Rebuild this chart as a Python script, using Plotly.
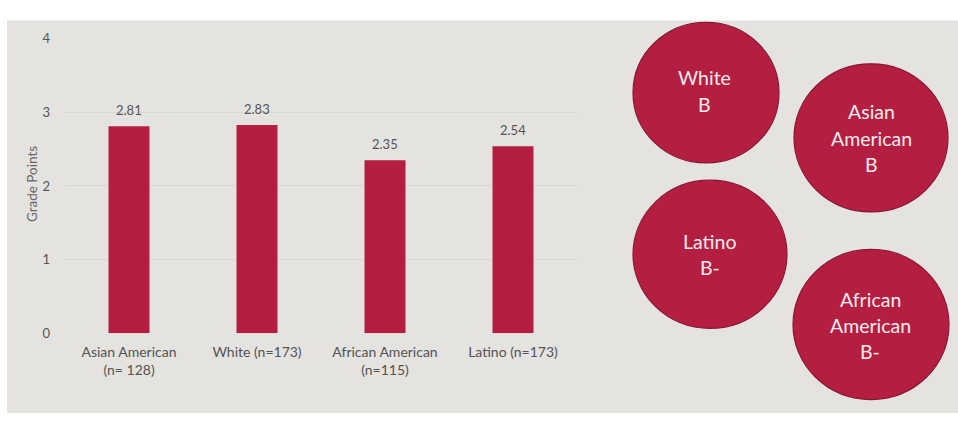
import plotly.graph_objects as go

# ---- data ----
categories = ["Asian American<br>(n= 128)", "White (n=173)", "African American<br>(n=115)", "Latino (n=173)"]
grade_points = [2.81, 2.83, 2.35, 2.54]
value_labels = ["2.81", "2.83", "2.35", "2.54"]
y_ticks = [0, 1, 2, 3, 4]

circle_groups = ["White", "Asian<br>American", "Latino", "African<br>American"]
circle_grades = ["B", "B", "B-", "B-"]

# ---- style / layout constants ----
W, H = 958, 421
BAR = "#b41f41"
EDGE = "#8a1531"
PANEL = "#e5e3df"
GRID = "#d9d7d3"
TXT = "#545454"
FONT = "Lato, 'Open Sans', sans-serif"

def px_x(x):
    return x / W

def px_y(y):
    return (H - y) / H

fig = go.Figure()
fig.add_trace(go.Bar(
    x=categories, y=grade_points, width=0.32,
    marker=dict(color=BAR, line=dict(width=0)),
    hoverinfo="x+y", showlegend=False,
))

annotations = []
for c, v, t in zip(categories, grade_points, value_labels):
    annotations.append(dict(x=c, y=v, xref="x", yref="y", text=t, showarrow=False,
                            xanchor="center", yanchor="bottom", yshift=6,
                            font=dict(family=FONT, size=13, color=TXT)))

annotations.append(dict(x=px_x(32), y=px_y(183), xref="paper", yref="paper",
                        text="Grade Points", textangle=-90, showarrow=False,
                        xanchor="center", yanchor="middle",
                        font=dict(family=FONT, size=13.5, color="#666666")))

# circle geometry in pixels: centre x, centre y, radius; text block centre y; line gap
circle_geom = [(706, 88, 73), (871, 135, 77), (710, 256, 77), (871, 329, 78)]
text_centre = [(704, 86.5), (871, 135.5), (710, 256.5), (870, 330)]
LINE_GAP = 27.5

shapes = [dict(type="rect", xref="paper", yref="paper",
               x0=px_x(7), x1=px_x(958), y0=px_y(421), y1=px_y(13),
               fillcolor=PANEL, line=dict(width=0), layer="below")]

for (cx, cy, r), (tx, ty), g, gr in zip(circle_geom, text_centre, circle_groups, circle_grades):
    shapes.append(dict(type="circle", xref="paper", yref="paper",
                       x0=px_x(cx - r), x1=px_x(cx + r),
                       y0=px_y(cy + r), y1=px_y(cy - r),
                       fillcolor=BAR, line=dict(color=EDGE, width=1.2), layer="above"))
    lines = g.split("<br>") + [gr]
    n = len(lines)
    for i, line in enumerate(lines):
        ly = ty + (i - (n - 1) / 2) * LINE_GAP
        annotations.append(dict(x=px_x(tx), y=px_y(ly), xref="paper", yref="paper",
                                text=line, showarrow=False, align="center",
                                xanchor="center", yanchor="middle",
                                font=dict(family=FONT, size=19.5, color="#f6eaed")))

fig.update_layout(
    width=W, height=H,
    margin=dict(l=0, r=0, t=0, b=0),
    paper_bgcolor="white",
    plot_bgcolor="rgba(0,0,0,0)",
    shapes=shapes,
    annotations=annotations,
    xaxis=dict(domain=[px_x(65), px_x(577)], showgrid=False, zeroline=False,
               showline=False, ticks="", ticklabelstandoff=9,
               tickfont=dict(family=FONT, size=14, color=TXT)),
    yaxis=dict(domain=[px_y(338), px_y(32)], range=[0, 4], tickvals=y_ticks,
               showgrid=True, gridcolor=GRID, gridwidth=1, zeroline=False,
               showline=False, ticks="", ticklabelstandoff=14,
               tickfont=dict(family=FONT, size=13, color=TXT)),
)

pin_to_corner = (
    "document.documentElement.style.margin='0';"
    "document.body.style.margin='0';"
    "document.body.style.overflow='hidden';"
    "var d=document.getElementById('{plot_id}');"
    "d.style.position='fixed';d.style.top='0px';d.style.left='0px';"
)

fig.write_html("out.html", post_script=pin_to_corner, config={"displayModeBar": False})
